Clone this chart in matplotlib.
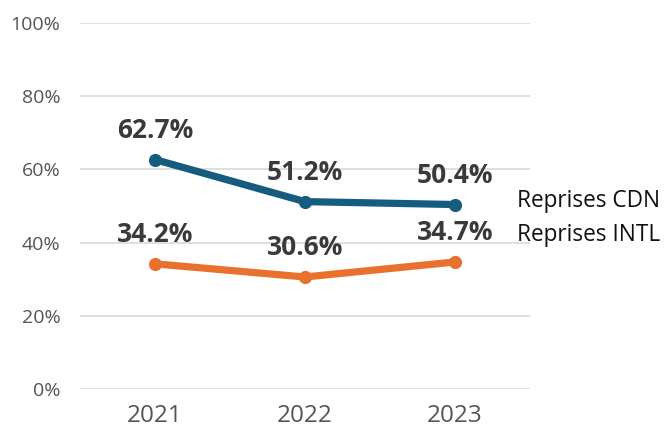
import matplotlib.pyplot as plt
from matplotlib.ticker import FuncFormatter

# Données
annees = ["2021", "2022", "2023"]
reprises_cdn = [62.7, 51.2, 50.4]
reprises_intl = [34.2, 30.6, 34.7]
yticks = [0, 20, 40, 60, 80, 100]

plt.rcParams['font.family'] = ['Open Sans', 'DejaVu Sans']

fig = plt.figure(figsize=(6.7, 4.34), dpi=100)
ax = fig.add_axes([0.119, 0.1037, 0.672, 0.8433])

x = range(len(annees))
bleu = "#165c7e"
orange = "#e8712e"

ax.plot(x, reprises_cdn, color=bleu, linewidth=5.2, marker="o", markersize=8.5,
        solid_capstyle="round", zorder=3)
ax.plot(x, reprises_intl, color=orange, linewidth=5.2, marker="o", markersize=8.5,
        solid_capstyle="round", zorder=3)

# Étiquettes de valeurs
for serie in (reprises_cdn, reprises_intl):
    for i, v in enumerate(serie):
        ax.annotate(f"{v:.1f}%", (i, v), xytext=(0, 21), textcoords="offset points",
                    ha="center", va="center", fontsize=19, fontweight="bold",
                    color="#3a3a3a")

# Noms des séries
ax.text(2.413, reprises_cdn[-1] + 1.0, "Reprises CDN", fontsize=16.3,
        color="#111111", va="center", ha="left", clip_on=False, fontweight="medium")
ax.text(2.413, reprises_intl[-1] + 7.4, "Reprises INTL", fontsize=16.3,
        color="#111111", va="center", ha="left", clip_on=False, fontweight="medium")

ax.set_xlim(-0.5, 2.5)
ax.set_ylim(0, 100)
ax.set_xticks(list(x))
ax.set_xticklabels(annees, fontsize=17.5, color="#555555")
ax.set_yticks(yticks)
ax.yaxis.set_major_formatter(FuncFormatter(lambda v, p: f"{v:.0f}%"))
ax.tick_params(axis="y", labelsize=14, labelcolor="#555555", length=0, pad=14)
ax.tick_params(axis="x", length=0, pad=11)

ax.grid(axis="y", color="#d9d9d9", linewidth=1.2)
ax.set_axisbelow(True)
for s in ax.spines.values():
    s.set_visible(False)

fig.savefig("out.png", dpi=100)
plt.close()
